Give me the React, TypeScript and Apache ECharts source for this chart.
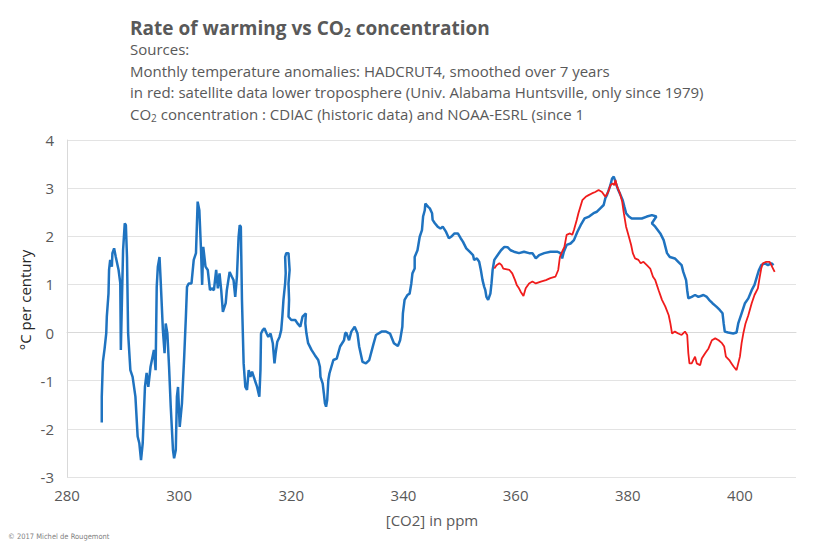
import React, { useEffect, useRef } from "react";
import * as echarts from "echarts";

// HADCRUT4 smoothed rate of warming (blue) vs CO2 concentration
const blueCO2 = [
  286.2, 286.2, 286.4, 286.7, 287.0, 287.1, 287.4, 287.5, 287.7, 288.0, 288.1, 288.4, 288.7, 289.2, 289.5, 289.6, 289.8, 290.0, 290.3, 290.5,
  290.7, 290.9, 291.3, 291.7, 292.2, 292.6, 292.9, 293.2, 293.5, 293.9, 294.2, 294.5, 294.9, 295.5, 295.8, 296.0, 296.2, 296.5, 296.7, 297.1,
  297.4, 297.6, 297.9, 298.2, 298.5, 298.9, 299.1, 299.4, 299.6, 299.8, 300.1, 300.5, 300.9, 301.2, 301.4, 301.7, 302.2, 302.6, 303.0, 303.3,
  303.6, 303.9, 304.1, 304.3, 304.7, 305.1, 305.5, 305.8, 306.2, 306.6, 306.9, 307.2, 307.5, 307.8, 308.3, 308.5, 309.0, 309.4, 309.7, 310.0,
  310.3, 310.6, 310.8, 311.0, 311.2, 311.5, 311.8, 312.1, 312.4, 312.7, 313.0, 313.5, 313.9, 314.3, 314.5, 314.6, 314.9, 315.2, 315.6, 315.9,
  316.3, 316.7, 317.0, 317.2, 317.5, 317.9, 318.2, 318.4, 318.6, 318.9, 319.0, 318.9, 319.1, 319.5, 319.7, 319.5, 319.6, 319.5, 320.0, 320.7,
  321.1, 321.6, 322.0, 322.6, 322.5, 322.7, 323.0, 323.6, 324.2, 324.8, 325.1, 325.2, 325.6, 325.8, 326.0, 326.2, 326.4, 326.6, 326.8, 327.5,
  328.1, 328.7, 329.4, 329.6, 329.8, 330.3, 330.7, 331.3, 331.8, 332.1, 332.7, 333.3, 333.9, 334.6, 335.1, 336.1, 336.9, 337.6, 338.3, 339.0,
  339.4, 339.8, 339.9, 340.2, 340.7, 341.1, 341.4, 341.6, 342.0, 342.0, 342.5, 342.9, 343.3, 343.5, 343.8, 343.9, 344.4, 344.7, 345.1, 345.2,
  345.6, 346.1, 346.6, 347.0, 347.6, 348.1, 348.5, 349.1, 349.7, 350.2, 350.6, 351.2, 351.8, 352.4, 352.6, 353.1, 353.5, 353.8, 354.1, 354.4,
  354.6, 354.8, 355.1, 355.5, 355.7, 355.9, 356.2, 356.8, 357.4, 358.0, 358.6, 359.1, 359.7, 360.6, 361.5, 362.4, 363.0, 363.6, 364.2, 365.1,
  366.2, 367.4, 368.0, 368.3, 368.6, 369.1, 369.8, 370.4, 371.0, 371.6, 372.3, 373.1, 373.9, 374.5, 375.1, 375.7, 376.0, 376.3, 376.6, 376.9,
  377.2, 377.5, 377.7, 378.0, 378.3, 378.7, 379.1, 379.4, 379.7, 380.2, 380.7, 381.6, 382.5, 383.4, 384.3, 385.1, 384.3, 384.9, 385.8, 386.4,
  387.0, 387.5, 388.4, 389.0, 389.6, 389.9, 390.4, 390.6, 390.8, 391.4, 392.0, 392.6, 393.5, 394.1, 394.5, 395.1, 395.8, 396.4, 396.9, 397.1,
  397.3, 397.9, 398.8, 399.4, 399.7, 400.3, 400.9, 401.5, 402.1, 402.6, 403.1, 403.4, 403.8, 404.4, 405.0, 405.6, 406.0,
];
const blueRate = [
  -1.87, -1.33, -0.61, -0.34, -0.01, 0.33, 0.81, 1.30, 1.51, 1.37, 1.65, 1.75, 1.57, 1.30, 1.03, -0.36, 0.68, 1.71, 2.27, 2.23,
  1.57, -0.01, -0.78, -0.92, -1.33, -2.16, -2.30, -2.65, -2.30, -1.13, -0.84, -1.13, -0.71, -0.36, -0.78, 0.95, 1.37, 1.57, 1.09, 0.05,
  -0.43, 0.19, -0.02, -0.71, -1.54, -2.44, -2.61, -2.44, -1.33, -1.13, -1.96, -1.47, -0.50, 0.33, 0.95, 1.02, 1.02, 1.51, 1.65, 2.72,
  2.54, 1.71, 0.99, 1.78, 1.37, 1.30, 0.88, 0.92, 0.88, 1.30, 0.92, 1.23, 0.88, 0.43, 0.61, 0.88, 1.26, 1.16, 1.09, 0.74,
  1.16, 1.99, 2.23, 2.20, 0.68, -0.64, -1.13, -1.19, -0.78, -0.92, -0.81, -0.99, -1.13, -1.33, -0.78, -0.02, 0.05, 0.09, -0.02, -0.09,
  -0.02, -0.22, -0.64, -0.43, -0.19, -0.09, 0.05, 0.33, 0.68, 1.02, 1.23, 1.57, 1.65, 1.65, 1.30, 1.02, 0.68, 0.33, 0.26, 0.26,
  0.19, 0.12, 0.33, 0.40, 0.19, -0.02, -0.22, -0.36, -0.47, -0.57, -0.71, -0.92, -1.06, -1.26, -1.47, -1.54, -1.40, -0.99, -0.85, -0.57,
  -0.54, -0.29, -0.16, -0.02, 0.00, -0.16, 0.02, 0.12, -0.02, -0.29, -0.61, -0.64, -0.57, -0.26, -0.05, 0.02, 0.02, -0.02, -0.22, -0.28,
  -0.16, 0.12, 0.40, 0.68, 0.78, 0.81, 1.02, 1.23, 1.33, 1.57, 1.71, 1.99, 2.13, 2.41, 2.54, 2.68, 2.61, 2.58, 2.48, 2.34,
  2.27, 2.20, 2.16, 2.20, 2.09, 1.96, 1.99, 2.06, 2.06, 1.96, 1.89, 1.75, 1.68, 1.61, 1.51, 1.54, 1.47, 1.30, 1.09, 0.95,
  0.88, 0.74, 0.68, 0.81, 1.02, 1.30, 1.51, 1.61, 1.71, 1.78, 1.77, 1.71, 1.68, 1.65, 1.68, 1.65, 1.65, 1.54, 1.61, 1.65,
  1.68, 1.68, 1.65, 1.54, 1.68, 1.82, 1.85, 1.92, 2.09, 2.23, 2.37, 2.41, 2.48, 2.51, 2.58, 2.65, 2.79, 2.86, 2.96, 3.06,
  3.20, 3.24, 3.17, 3.06, 2.96, 2.86, 2.75, 2.61, 2.48, 2.41, 2.37, 2.37, 2.37, 2.41, 2.44, 2.41, 2.27, 2.20, 2.06, 1.92,
  1.65, 1.57, 1.54, 1.47, 1.40, 1.26, 1.09, 0.88, 0.71, 0.74, 0.78, 0.74, 0.78, 0.74, 0.68, 0.61, 0.54, 0.47, 0.40, 0.19,
  0.02, 0.00, -0.02, 0.00, 0.19, 0.40, 0.61, 0.71, 0.88, 0.99, 1.19, 1.30, 1.40, 1.44, 1.40, 1.44, 1.40,
];

// UAH satellite lower troposphere (red), only since 1979
const redCO2 = [
  356.2, 356.6, 357.1, 357.5, 357.8, 358.9, 359.4, 359.9, 360.2, 360.6, 360.9, 361.4, 361.8, 362.4, 363.0, 363.6, 364.5, 365.4, 366.2, 367.1,
  367.6, 367.9, 368.3, 368.7, 369.1, 369.7, 370.1, 370.4, 370.9, 371.2, 371.9, 372.5, 373.1, 373.6, 374.2, 374.8, 375.4, 376.0, 376.5, 376.9,
  377.3, 377.6, 377.8, 378.1, 378.6, 379.0, 379.3, 379.7, 380.2, 380.6, 380.9, 381.3, 381.9, 382.3, 382.8, 383.4, 384.0, 384.5, 384.9, 385.5,
  386.1, 386.7, 387.3, 387.6, 387.9, 388.4, 389.0, 389.6, 390.2, 390.6, 390.8, 391.0, 391.4, 392.0, 392.3, 392.9, 393.2, 393.8, 394.4, 395.0,
  395.6, 396.2, 396.8, 397.2, 397.5, 398.1, 398.5, 398.9, 399.4, 399.7, 400.0, 400.3, 400.6, 401.0, 401.5, 402.1, 402.6, 403.2, 403.5, 403.8,
  404.1, 404.7, 405.3, 405.6, 405.9, 406.2,
];
const redRate = [
  1.33, 1.40, 1.44, 1.40, 1.33, 1.30, 1.23, 1.09, 0.99, 0.92, 0.85, 0.76, 0.92, 1.02, 1.06, 1.02, 1.06, 1.09, 1.13, 1.16,
  1.30, 1.57, 1.68, 1.78, 2.03, 2.06, 2.03, 2.13, 2.34, 2.48, 2.75, 2.82, 2.86, 2.89, 2.92, 2.96, 2.92, 2.82, 2.92, 3.06,
  3.10, 3.06, 3.17, 3.03, 2.89, 2.72, 2.48, 2.20, 1.99, 1.82, 1.65, 1.54, 1.51, 1.44, 1.47, 1.40, 1.33, 1.16, 1.09, 0.88,
  0.68, 0.54, 0.36, 0.19, -0.02, 0.02, -0.02, -0.05, 0.02, -0.05, -0.43, -0.64, -0.64, -0.50, -0.64, -0.68, -0.54, -0.43, -0.33, -0.16,
  -0.12, -0.16, -0.22, -0.29, -0.50, -0.57, -0.64, -0.71, -0.78, -0.64, -0.50, -0.22, -0.02, 0.19, 0.36, 0.61, 0.78, 0.92, 1.13, 1.33,
  1.44, 1.47, 1.47, 1.40, 1.33, 1.26,
];

const xTicksMin = 280;
const xTicksMax = 410;
const yTicksMin = -3;
const yTicksMax = 4;

const titleMain = "Rate of warming vs CO";
const titleTail = " concentration";
const subLines = [
  "Sources:",
  "Monthly temperature anomalies: HADCRUT4, smoothed over 7 years",
  "in red: satellite data lower troposphere (Univ. Alabama Huntsville, only since 1979)",
];
const lastLineHead = "CO";
const lastLineTail = " concentration : CDIAC (historic data) and NOAA-ESRL (since 1";

const FONT = "'Open Sans', 'Noto Sans', sans-serif";
const GREY = "#595959";

export default function App() {
  const ref = useRef<HTMLDivElement>(null);
  useEffect(() => {
    if (!ref.current) return;
    const chart = echarts.init(ref.current, null, { renderer: "svg" });
    const blueData = blueCO2.map((x, i) => [x, blueRate[i]]);
    const redData = redCO2.map((x, i) => [x, redRate[i]]);
    const subStyle = { fontSize: 15, fontFamily: FONT, fill: GREY };
    const lineTop = (i: number) => 41.5 + i * 21.7;
    chart.setOption({
      animation: false,
      backgroundColor: "#ffffff",
      grid: { left: 67, right: 34, top: 140, bottom: 76, containLabel: false },
      xAxis: {
        type: "value",
        min: xTicksMin,
        max: xTicksMax,
        interval: 20,
        axisLine: { show: true, lineStyle: { color: "#d9d9d9" } },
        axisTick: { show: false },
        splitLine: { show: false },
        axisLabel: { color: GREY, fontSize: 15, fontFamily: FONT, margin: 10, showMaxLabel: false },
      },
      yAxis: {
        type: "value",
        min: yTicksMin,
        max: yTicksMax,
        interval: 1,
        axisLine: { show: true, lineStyle: { color: "#d9d9d9" } },
        axisTick: { show: false },
        splitLine: { show: true, lineStyle: { color: "#e3e3e3" } },
        axisLabel: { color: GREY, fontSize: 15, fontFamily: FONT, margin: 13 },
      },
      series: [
        {
          type: "line",
          data: blueData,
          showSymbol: false,
          lineStyle: { color: "#1f73c0", width: 2.5 },
          itemStyle: { color: "#1f73c0" },
          z: 2,
        },
        {
          type: "line",
          data: redData,
          showSymbol: false,
          lineStyle: { color: "#f01c1c", width: 1.8 },
          itemStyle: { color: "#f01c1c" },
          z: 3,
        },
      ],
      graphic: [
        {
          type: "text",
          left: 130,
          top: 18,
          style: {
            text: `{a|${titleMain}}{s|2}{a|${titleTail}}`,
            rich: {
              a: { fontSize: 19, fontWeight: "bold", fontFamily: FONT, fill: GREY, color: GREY },
              s: { fontSize: 12, fontWeight: "bold", fontFamily: FONT, fill: GREY, color: GREY, padding: [10, 0, 0, 0] },
            },
          },
        },
        ...subLines.map((t, i) => ({
          type: "text",
          left: 130,
          top: lineTop(i),
          style: { text: t, ...subStyle },
        })),
        {
          type: "text",
          left: 130,
          top: lineTop(3),
          style: {
            text: `{a|${lastLineHead}}{s|2}{a|${lastLineTail}}`,
            rich: {
              a: { fontSize: 15, fontFamily: FONT, fill: GREY, color: GREY },
              s: { fontSize: 10, fontFamily: FONT, fill: GREY, color: GREY, padding: [8, 0, 0, 0] },
            },
          },
        },
        {
          type: "text",
          x: 25,
          y: 300,
          rotation: Math.PI / 2,
          style: {
            text: "°C per century",
            fontSize: 15,
            fontFamily: FONT,
            fill: "#262626",
            align: "center",
            verticalAlign: "middle",
          },
        },
        {
          type: "text",
          x: 432,
          y: 520,
          style: {
            text: "[CO2] in ppm",
            fontSize: 15,
            fontFamily: FONT,
            fill: GREY,
            align: "center",
            verticalAlign: "middle",
          },
        },
        {
          type: "text",
          x: 8,
          y: 536,
          style: {
            text: "© 2017 Michel de Rougemont",
            fontSize: 7.5,
            fontFamily: "'Liberation Sans Narrow', 'DejaVu Sans Condensed', sans-serif",
            fill: "#7f7f7f",
            align: "left",
            verticalAlign: "middle",
          },
        },
      ],
    });
    return () => chart.dispose();
  }, []);
  return <div ref={ref} style={{ width: 830, height: 553, position: "absolute", left: 0, top: 0 }} />;
}
